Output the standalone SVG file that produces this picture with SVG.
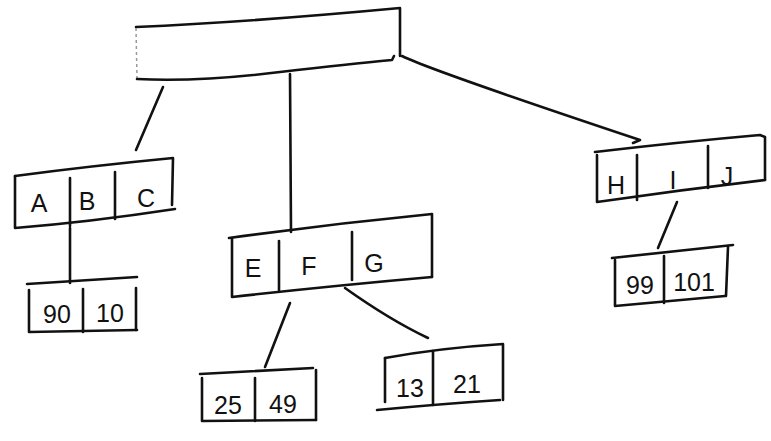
<svg xmlns="http://www.w3.org/2000/svg" width="771" height="441" viewBox="0 0 771 441">
<style>
.s{fill:none;stroke:#111;stroke-width:2.6;stroke-linecap:round;stroke-linejoin:round}
.t{font-family:"Liberation Sans","DejaVu Sans",sans-serif;font-size:25px;fill:#111;text-anchor:middle}
</style>
<rect width="771" height="441" fill="#fff"/>
<g id="connectors">
<path class="s" d="M163,87 L136,150"/>
<path class="s" d="M290,74 L291,232"/>
<path class="s" d="M402,56 Q430,70 640,140 L633,143"/>
<path class="s" d="M70,228 L70,283"/>
<path class="s" d="M290,303 L265,367"/>
<path class="s" d="M345,288 Q390,320 428,338"/>
<path class="s" d="M677,202 L658,248"/>
</g>
<g id="root">
<path class="s" d="M136,27 Q250,22 400,8 L400,56"/>
<path d="M136,28 L137,79" fill="none" stroke="#999" stroke-width="1.5" stroke-dasharray="3,3"/>
<path class="s" d="M137,79 Q200,82 280,72 Q350,64 392,60 L394,56"/>
</g>
<g id="node-abc">
<path class="s" d="M15,176 Q90,166 173,158 L172,205"/>
<path class="s" d="M15,176 L15,228 Q90,222 175,209"/>
<path class="s" d="M70,178 L70,226"/>
<path class="s" d="M115,172 L115,219"/>
<text class="t" x="39" y="212">A</text>
<text class="t" x="87" y="210">B</text>
<text class="t" x="146" y="207">C</text>
</g>
<g id="node-90-10">
<path class="s" d="M27,284 L137,277"/>
<path class="s" d="M29,290 L29,332 L137,330"/>
<path class="s" d="M83,289 L83,332"/>
<path class="s" d="M136,288 L136,330"/>
<text class="t" x="57" y="323">90</text>
<text class="t" x="110" y="322">10</text>
</g>
<g id="node-efg">
<path class="s" d="M229,238 Q330,224 432,214 L432,277"/>
<path class="s" d="M232,238 L232,297 Q330,286 432,277"/>
<path class="s" d="M279,241 L279,290"/>
<path class="s" d="M352,232 L352,280"/>
<text class="t" x="253" y="277">E</text>
<text class="t" x="309" y="275">F</text>
<text class="t" x="374" y="272">G</text>
</g>
<g id="node-25-49">
<path class="s" d="M200,374 L313,368"/>
<path class="s" d="M202,378 L202,421 L316,420"/>
<path class="s" d="M255,378 L255,421"/>
<path class="s" d="M316,370 L316,420"/>
<text class="t" x="228" y="414">25</text>
<text class="t" x="283" y="413">49</text>
</g>
<g id="node-13-21">
<path class="s" d="M385,358 Q440,348 503,344 L503,400"/>
<path class="s" d="M385,358 L385,402"/>
<path class="s" d="M377,410 Q440,404 500,400"/>
<path class="s" d="M433,351 L433,405"/>
<text class="t" x="410" y="397">13</text>
<text class="t" x="467" y="393">21</text>
</g>
<g id="node-hij">
<path class="s" d="M595,152 Q680,142 760,135 L765,137 L765,180"/>
<path class="s" d="M597,155 L597,202 Q680,190 765,180"/>
<path class="s" d="M637,155 L637,200"/>
<path class="s" d="M708,146 L708,188"/>
<text class="t" x="616" y="194">H</text>
<text class="t" x="673" y="189">I</text>
<text class="t" x="727" y="185">J</text>
</g>
<g id="node-99-101">
<path class="s" d="M612,258 L733,245"/>
<path class="s" d="M615,260 L615,306 L725,296"/>
<path class="s" d="M664,256 L664,303"/>
<path class="s" d="M728,247 L726,296"/>
<text class="t" x="640" y="294">99</text>
<text class="t" x="694" y="291">101</text>
</g>
</svg>
